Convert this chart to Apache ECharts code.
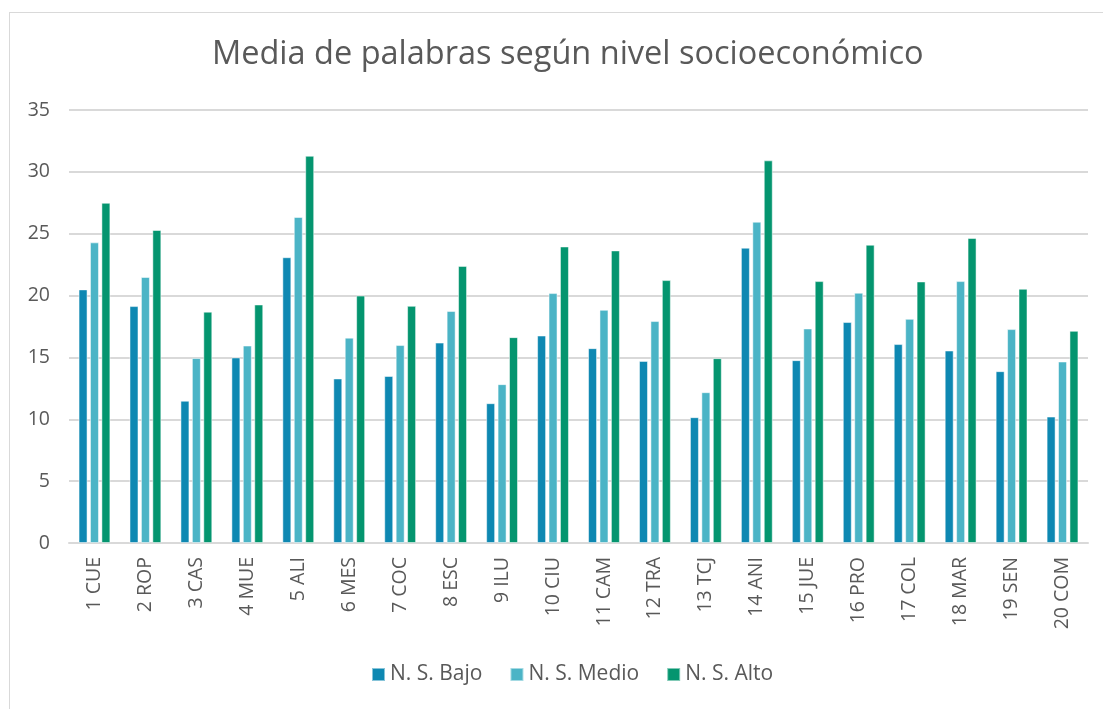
<!DOCTYPE html>
<html>
<head>
<meta charset="utf-8">
<script src="https://cdn.jsdelivr.net/npm/echarts@6/dist/echarts.min.js"></script>
<style>
  html, body { margin: 0; padding: 0; background: #fff; }
  #frame { position: absolute; left: 9px; top: 12px; width: 1110px; height: 720px; border: 1px solid #d9d9d9; box-sizing: border-box; }
  #chart { position: absolute; left: 0; top: 0; width: 1103px; height: 709px; }
</style>
</head>
<body>
<div id="frame"></div>
<div id="chart"></div>
<script>
const categories = ["1 CUE", "2 ROP", "3 CAS", "4 MUE", "5 ALI", "6 MES", "7 COC", "8 ESC", "9 ILU", "10 CIU",
  "11 CAM", "12 TRA", "13 TCJ", "14 ANI", "15 JUE", "16 PRO", "17 COL", "18 MAR", "19 SEN", "20 COM"];
const bajo = [20.5, 19.15, 11.5, 15.0, 23.1, 13.3, 13.5, 16.2, 11.3, 16.77,
  15.75, 14.72, 10.17, 23.87, 14.78, 17.86, 16.08, 15.56, 13.89, 10.22];
const medio = [24.3, 21.5, 14.95, 15.96, 26.35, 16.6, 16.0, 18.75, 12.84, 20.2,
  18.85, 17.94, 12.19, 25.97, 17.34, 20.23, 18.12, 21.17, 17.29, 14.67];
const alto = [27.5, 25.3, 18.7, 19.28, 31.3, 20.0, 19.17, 22.4, 16.64, 23.97,
  23.65, 21.25, 14.94, 30.93, 21.17, 24.11, 21.14, 24.65, 20.55, 17.15];
const seriesNames = ["N. S. Bajo", "N. S. Medio", "N. S. Alto"];

const font = "'Open Sans', 'Noto Sans', sans-serif";
const chart = echarts.init(document.getElementById("chart"));

function bar(name, data, color) {
  return {
    name: name,
    type: "bar",
    data: data,
    barWidth: 9,
    barGap: "27%",
    itemStyle: { color: color, borderColor: "rgba(255,255,255,0.5)", borderWidth: 1 }
  };
}

const option = {
  animation: false,
  title: {
    text: "Media de palabras según nivel socioeconómico",
    left: 207,
    top: 33,
    textStyle: { fontFamily: font, fontSize: 32.5, fontWeight: "normal", color: "#595959" }
  },
  legend: {
    bottom: 19,
    left: 366,
    itemWidth: 13,
    itemHeight: 13,
    itemGap: 27,
    icon: "rect",
    textStyle: { fontFamily: font, fontSize: 21, color: "#595959" },
    data: seriesNames
  },
  grid: { left: 69, right: 15, top: 110, bottom: 166, containLabel: false },
  xAxis: {
    type: "category",
    data: categories,
    axisLine: { lineStyle: { color: "#d9d9d9", width: 2 } },
    axisTick: { show: false },
    axisLabel: { rotate: 90, margin: 14, fontFamily: font, fontSize: 19.5, color: "#595959", interval: 0 }
  },
  yAxis: {
    type: "value",
    min: 0,
    max: 35,
    interval: 5,
    axisLine: { show: false },
    axisTick: { show: false },
    splitLine: { lineStyle: { color: "#d9d9d9", width: 2 } },
    axisLabel: { margin: 19, fontFamily: font, fontSize: 19.5, color: "#595959" }
  },
  series: [
    bar(seriesNames[0], bajo, "#0E88B2"),
    bar(seriesNames[1], medio, "#4BB4C6"),
    bar(seriesNames[2], alto, "#04956F")
  ]
};
chart.setOption(option);
</script>
</body>
</html>
